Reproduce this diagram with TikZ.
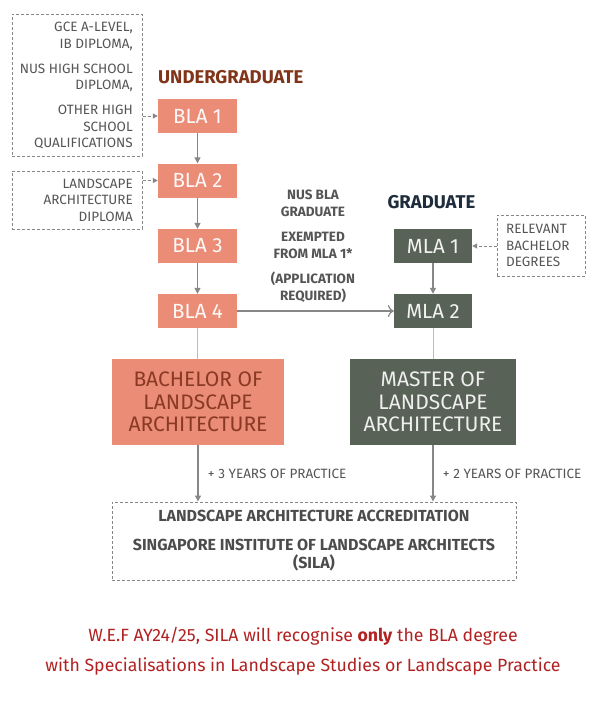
\documentclass[tikz,border=0pt]{standalone}
\usepackage{fontspec}
\setmainfont{Fira Sans}
\usetikzlibrary{arrows.meta}
\definecolor{salmon}{RGB}{234,140,118}
\definecolor{mossy}{RGB}{89,98,86}
\definecolor{bachtext}{RGB}{138,58,36}
\definecolor{undergrad}{RGB}{128,52,24}
\definecolor{gradnavy}{RGB}{30,44,60}
\definecolor{linegray}{RGB}{135,135,135}
\definecolor{txtgray}{RGB}{85,85,85}
\definecolor{notered}{RGB}{178,34,34}
\tikzset{
  blabox/.style={fill=salmon, text=white!95!salmon, minimum width=79pt, minimum height=34pt, inner sep=0pt, font=\fontsize{20.5}{23}\selectfont},
  mlabox/.style={fill=mossy, text=white!92!mossy, minimum width=78pt, minimum height=34pt, inner sep=0pt, font=\fontsize{20.5}{23}\selectfont},
  dashbox/.style={draw=linegray, dash pattern=on 3pt off 2pt, line width=1pt, inner sep=0pt, text=txtgray},
  flow/.style={draw=linegray, line width=1.3pt, -{Triangle[length=6pt,width=6pt]}},
  dflow/.style={draw=linegray, line width=1pt, dash pattern=on 3pt off 2pt, -{Triangle[length=5pt,width=5pt]}},
  plain/.style={draw=linegray!55, line width=1pt},
  smalltxt/.style={font=\fontsize{13.5}{16.5}\selectfont, text=txtgray, inner sep=0pt},
  degree/.style={minimum width=172pt, minimum height=86pt, inner sep=0pt, align=center, font=\fontsize{21}{22.5}\selectfont},
  heading/.style={font=\fontsize{18.5}{20}\selectfont\bfseries},
  practice/.style={font=\fontsize{13.5}{15}\selectfont, text=txtgray},
}
\begin{document}
\begin{tikzpicture}[x=1pt,y=-1pt]
\useasboundingbox (0,0) rectangle (602,702);
\fill[white] (0,0) rectangle (602,702);

% dashed source boxes
\node[dashbox, minimum width=130pt, minimum height=142pt] (src1) at (77,85) {};
\node[smalltxt, anchor=east, align=right] (src1txt) at (133,85.5)
  {GCE A-LEVEL,\\IB DIPLOMA,\\[8.5pt]NUS HIGH SCHOOL\\DIPLOMA,\\[8.5pt]OTHER HIGH\\SCHOOL\\QUALIFICATIONS};
\node[dashbox, minimum width=130pt, minimum height=58pt] (src2) at (77,200) {};
\node[smalltxt, anchor=east, align=right] (src2txt) at (133,200)
  {LANDSCAPE\\ARCHITECTURE\\DIPLOMA};
\node[dashbox, minimum width=88pt, minimum height=61pt] (src3) at (541,245.5) {};
\node[smalltxt, anchor=west, align=left] (src3txt) at (506,245.5)
  {RELEVANT\\BACHELOR\\DEGREES};

% headings
\node[heading, text=undergrad, anchor=west, inner sep=0pt] (ughead) at (158,77) {UNDERGRADUATE};
\node[heading, text=gradnavy, inner sep=0pt] (ghead) at (431.5,202) {GRADUATE};

% BLA boxes
\node[blabox] (bla1) at (197.5,116) {BLA 1};
\node[blabox] (bla2) at (197.5,180.5) {BLA 2};
\node[blabox] (bla3) at (197.5,246) {BLA 3};
\node[blabox] (bla4) at (197.5,311) {BLA 4};
% MLA boxes
\node[mlabox] (mla1) at (433,246) {MLA 1};
\node[mlabox] (mla2) at (433,311) {MLA 2};

% middle note
\node[font=\fontsize{13.5}{16.5}\selectfont\bfseries, text=txtgray, align=center] (note) at (313,246.5)
  {NUS BLA\\GRADUATE\\[9pt]EXEMPTED\\FROM MLA 1*\\[9pt](APPLICATION\\REQUIRED)};

% degree boxes
\node[degree, fill=salmon, text=bachtext] (bach) at (198,402)
  {BACHELOR OF\\LANDSCAPE\\ARCHITECTURE};
\node[degree, fill=mossy, text=white!90!mossy, minimum width=166pt] (mast) at (433,402)
  {MASTER OF\\LANDSCAPE\\ARCHITECTURE};

% accreditation box
\node[dashbox, minimum width=404pt, minimum height=78pt, align=center, font=\fontsize{16}{18}\selectfont\bfseries, text=txtgray!90!black] (accr) at (314,541)
  {LANDSCAPE ARCHITECTURE ACCREDITATION\\[11pt]SINGAPORE INSTITUTE OF LANDSCAPE ARCHITECTS\\(SILA)};

% bottom note
\node[font=\fontsize{17.7}{30}\selectfont, text=notered, align=center] (foot) at (303,651)
  {W.E.F AY24/25, SILA will recognise \textbf{only} the BLA degree\\with Specialisations in Landscape Studies or Landscape Practice};

% connectors
\draw[flow] (bla1) -- (bla2);
\draw[flow] (bla2) -- (bla3);
\draw[flow] (bla3) -- (bla4);
\draw[flow] (mla1) -- (mla2);
\draw[dflow] (src1.east |- bla1) -- (bla1.west);
\draw[dflow] (src2.east |- bla2) -- (bla2.west);
\draw[dflow] (src3.west |- mla1) -- (mla1.east);
\draw[draw=linegray, line width=1.2pt, -{To[length=6pt,width=12pt]}] (bla4.east) -- (mla2.west);
\draw[plain] (bla4.south) -- (bla4.south |- bach.north);
\draw[plain] (mla2.south) -- (mla2.south |- mast.north);
\coordinate (bachout) at (bach.south);
\coordinate (mastout) at (mast.south);
\draw[flow] (bachout) -- (bachout |- accr.north) node[pos=0.5, right=6pt, practice] (lab3) {+ 3 YEARS OF PRACTICE};
\draw[flow] (mastout) -- (mastout |- accr.north) node[pos=0.5, right=6pt, practice] (lab2) {+ 2 YEARS OF PRACTICE};
\end{tikzpicture}
\end{document}
